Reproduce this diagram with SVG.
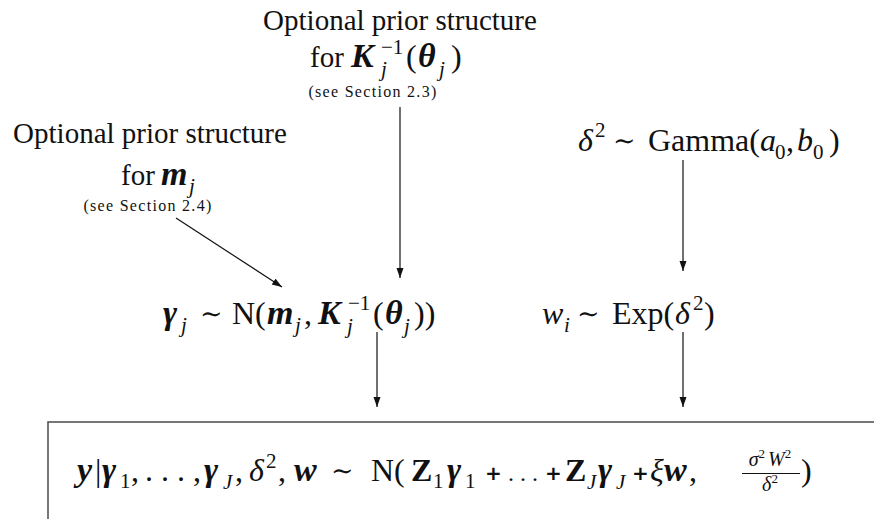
<svg xmlns="http://www.w3.org/2000/svg" width="874" height="519" viewBox="0 0 874 519">
<defs>
<marker id="ah" markerWidth="11" markerHeight="8" refX="10" refY="3.5" orient="auto" markerUnits="userSpaceOnUse"><path d="M0,0 L10,3.5 L0,7 Z" fill="#111"/></marker>
<style>
text{font-family:"Liberation Serif","DejaVu Serif",serif;fill:#111;font-size:29px}
.t{font-family:"Liberation Serif",serif;font-size:29px}
.m{font-size:32px}
.bi{font-weight:bold;font-style:italic;font-size:34px}
.b{font-weight:bold;font-size:32px}
.i{font-style:italic;font-size:32px}
.s{font-size:21px}
.si{font-size:21px;font-style:italic}
.sm{font-family:"Liberation Serif",serif;font-size:16px;letter-spacing:1.3px}
.tl{font-family:"DejaVu Serif",serif;font-size:27px}
.fr{font-size:20px}
.fs{font-size:13px}
.pl{font-family:"DejaVu Sans",sans-serif;font-size:20px;font-weight:bold}
.c{stroke:#111;stroke-width:1.2;fill:none;marker-end:url(#ah)}
.box{stroke:#555;stroke-width:1.6;fill:none}
</style>
</defs>
<rect width="874" height="519" fill="#fff"/>

<g id="prior-K">
<text x="400" y="30" text-anchor="middle" class="t">Optional prior structure</text>
<text x="310" y="67" class="t">for</text>
<text x="351" y="67" class="bi">K</text>
<text x="381" y="54" class="s">−1</text>
<text x="381" y="76" class="si">j</text>
<text x="406" y="67" class="m">(</text>
<text x="418" y="67" class="bi">θ</text>
<text x="439" y="76" class="si">j</text>
<text x="451" y="67" class="m">)</text>
<text x="373" y="97" text-anchor="middle" class="sm">(see Section 2.3)</text>
</g>

<g id="prior-m">
<text x="150" y="143" text-anchor="middle" class="t">Optional prior structure</text>
<text x="121" y="185" class="t">for</text>
<text x="161" y="185" class="bi">m</text>
<text x="189" y="193" class="si">j</text>
<text x="148" y="211" text-anchor="middle" class="sm">(see Section 2.4)</text>
</g>

<g id="delta-prior">
<text x="578" y="151" class="i">δ</text>
<text x="595" y="137" class="s">2</text>
<text x="613" y="150" class="tl">∼</text>
<text x="648" y="151" class="m">Gamma(</text>
<text x="760" y="151" class="i">a</text>
<text x="775" y="159" class="s">0</text>
<text x="786" y="151" class="m">,</text>
<text x="797" y="151" class="i">b</text>
<text x="813" y="159" class="s">0</text>
<text x="829" y="151" class="m">)</text>
</g>

<g id="gamma-node">
<text x="163" y="324" class="bi">γ</text>
<text x="181" y="332" class="si">j</text>
<text x="200" y="323" class="tl">∼</text>
<text x="232" y="324" class="m">N(</text>
<text x="267" y="324" class="bi">m</text>
<text x="295" y="332" class="si">j</text>
<text x="304" y="324" class="m">,</text>
<text x="318" y="324" class="bi">K</text>
<text x="348" y="310" class="s">−1</text>
<text x="347" y="333" class="si">j</text>
<text x="373" y="324" class="m">(</text>
<text x="385" y="324" class="bi">θ</text>
<text x="404" y="333" class="si">j</text>
<text x="414" y="324" class="m">))</text>
</g>

<g id="w-node">
<text x="542" y="324" class="i">w</text>
<text x="564" y="332" class="si">i</text>
<text x="577" y="323" class="tl">∼</text>
<text x="612" y="324" class="m">Exp(</text>
<text x="675" y="324" class="i">δ</text>
<text x="693" y="310" class="s">2</text>
<text x="704" y="324" class="m">)</text>
</g>

<g id="likelihood">
<rect x="48" y="422" width="860" height="140" class="box"/>
<text>
<tspan x="77" y="481" class="bi">y</tspan>
<tspan x="95" y="481" class="m">|</tspan>
<tspan x="102" y="481" class="bi">γ</tspan><tspan x="120" y="488" class="s">1</tspan><tspan x="131" y="481" class="m">,</tspan>
<tspan x="145" y="481" class="m">. . .</tspan>
<tspan x="193" y="481" class="m">,</tspan>
<tspan x="204" y="481" class="bi">γ</tspan><tspan x="223" y="489" class="si">J</tspan><tspan x="235" y="481" class="m">,</tspan>
<tspan x="249" y="481" class="i">δ</tspan><tspan x="266" y="468" class="s">2</tspan><tspan x="278" y="481" class="m">,</tspan>
<tspan x="294" y="481" class="bi">w</tspan>
<tspan x="331" y="480" class="tl">∼</tspan>
<tspan x="371" y="481" class="m">N(</tspan>
<tspan x="411" y="481" class="b">Z</tspan><tspan x="433" y="488" class="s">1</tspan>
<tspan x="447" y="481" class="bi">γ</tspan><tspan x="465" y="488" class="s">1</tspan>
<tspan x="485" y="480" class="pl">+</tspan>
<tspan x="508" y="481" style="font-size:24px">. . .</tspan>
<tspan x="545" y="480" class="pl">+</tspan>
<tspan x="565" y="481" class="b">Z</tspan><tspan x="587" y="489" class="si">J</tspan>
<tspan x="598" y="481" class="bi">γ</tspan><tspan x="616" y="489" class="si">J</tspan>
<tspan x="632" y="480" class="pl">+</tspan>
<tspan x="650" y="481" class="i">ξ</tspan>
<tspan x="664" y="481" class="bi">w</tspan>
<tspan x="689" y="481" class="m">,</tspan>
</text>
<text x="770" y="466" text-anchor="middle" class="fr"><tspan class="i" style="font-size:20px">σ</tspan><tspan class="fs" dy="-8">2</tspan><tspan class="i" style="font-size:20px" dx="3" dy="8">W</tspan><tspan class="fs" dy="-8">2</tspan></text>
<line x1="742" y1="473.5" x2="800" y2="473.5" stroke="#111" stroke-width="1"/>
<text x="770" y="491" text-anchor="middle" class="fr"><tspan class="i" style="font-size:20px">δ</tspan><tspan class="fs" dy="-8">2</tspan></text>
<text x="801" y="481" class="m">)</text>
</g>

<g id="connectors">
<line x1="400" y1="107" x2="400" y2="278" class="c"/>
<line x1="176" y1="218" x2="282" y2="287" class="c"/>
<line x1="683" y1="160" x2="683" y2="271" class="c"/>
<line x1="377" y1="332" x2="377" y2="407" class="c"/>
<line x1="683" y1="332" x2="683" y2="407" class="c"/>
</g>
</svg>
